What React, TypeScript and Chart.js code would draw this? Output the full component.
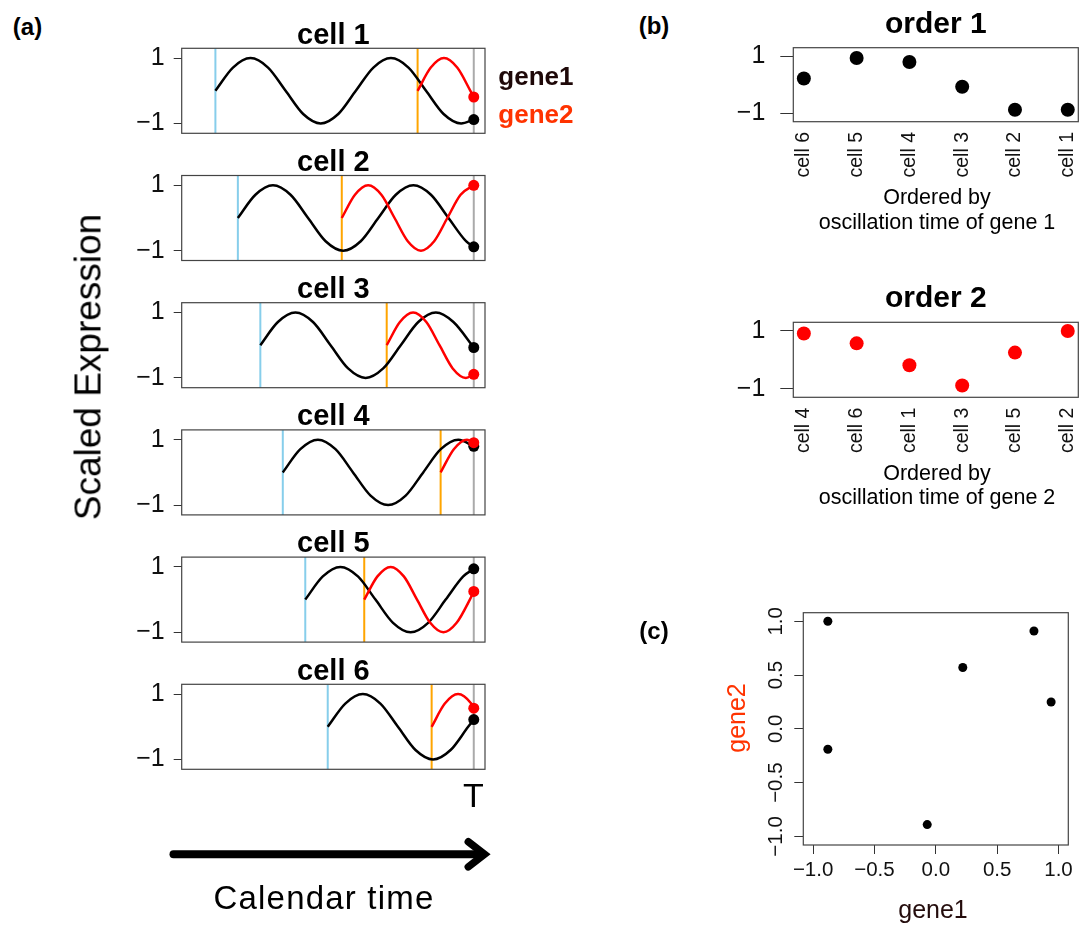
import React, { useEffect, useRef } from "react";
import { Chart, registerables } from "chart.js";

Chart.register(...registerables);

const FONT = '"Liberation Sans", Arial, Helvetica, sans-serif';

// ---------------- data ----------------
const cellNames = ["cell 1", "cell 2", "cell 3", "cell 4", "cell 5", "cell 6"];
const calendarT = 100; // the time T (gray line)
const timeRange = [-4, 104];
const exprRange = [-1.3, 1.3];
const exprTicks = [-1, 1];

// expression of each gene at time T (end dots)
const gene1End = [-0.88, -0.88, -0.07, 0.8, 0.94, 0.22];
const gene2End = [-0.19, 1.0, -0.89, 0.91, 0.25, 0.57];

// points (time, scaled expression)
const gene1Cell1 = [[8, 0], [14.25, 0.71], [20.5, 1], [26.75, 0.71], [33, 0], [39.25, -0.71], [45.5, -1], [51.75, -0.71], [58, 0], [64.25, 0.71], [70.5, 1], [76.75, 0.71], [83, 0], [89.25, -0.71], [95.5, -1]];
const gene1Cell2 = [[16, 0], [22.25, 0.71], [28.5, 1], [34.75, 0.71], [41, 0], [47.25, -0.71], [53.5, -1], [59.75, -0.71], [66, 0], [72.25, 0.71], [78.5, 1], [84.75, 0.71], [91, 0], [97.25, -0.71]];
const gene1Cell3 = [[24, 0], [30.25, 0.71], [36.5, 1], [42.75, 0.71], [49, 0], [55.25, -0.71], [61.5, -1], [67.75, -0.71], [74, 0], [80.25, 0.71], [86.5, 1], [92.75, 0.71]];
const gene1Cell4 = [[32, 0], [38.25, 0.71], [44.5, 1], [50.75, 0.71], [57, 0], [63.25, -0.71], [69.5, -1], [75.75, -0.71], [82, 0], [88.25, 0.71], [94.5, 1]];
const gene1Cell5 = [[40, 0], [46.25, 0.71], [52.5, 1], [58.75, 0.71], [65, 0], [71.25, -0.71], [77.5, -1], [83.75, -0.71], [90, 0], [96.25, 0.71]];
const gene1Cell6 = [[48, 0], [54.25, 0.71], [60.5, 1], [66.75, 0.71], [73, 0], [79.25, -0.71], [85.5, -1], [91.75, -0.71], [98, 0]];

const gene2Cell1 = [[80, 0], [84.7, 0.71], [89.4, 1], [94.1, 0.71], [98.8, 0]];
const gene2Cell2 = [[53, 0], [57.7, 0.71], [62.4, 1], [67.1, 0.71], [71.8, 0], [76.5, -0.71], [81.2, -1], [85.9, -0.71], [90.6, 0], [95.3, 0.71]];
const gene2Cell3 = [[69, 0], [73.7, 0.71], [78.4, 1], [83.1, 0.71], [87.8, 0], [92.5, -0.71], [97.2, -1]];
const gene2Cell4 = [[88.2, 0], [92.9, 0.71], [97.6, 1]];
const gene2Cell5 = [[61, 0], [65.7, 0.71], [70.4, 1], [75.1, 0.71], [79.8, 0], [84.5, -0.71], [89.2, -1], [93.9, -0.71], [98.6, 0]];
const gene2Cell6 = [[85, 0], [89.7, 0.71], [94.4, 1], [99.1, 0.71]];

const gene1Keys = [gene1Cell1, gene1Cell2, gene1Cell3, gene1Cell4, gene1Cell5, gene1Cell6];
const gene2Keys = [gene2Cell1, gene2Cell2, gene2Cell3, gene2Cell4, gene2Cell5, gene2Cell6];

// panel (b): cells ordered by oscillation time
const order1Cells = [6, 5, 4, 3, 2, 1];
const order2Cells = [4, 6, 1, 3, 5, 2];

// panel (c)
const scatterRange = [-1.08, 1.08];
const scatterTicks = [-1, -0.5, 0, 0.5, 1];

// ---------------- styles ----------------
const BLACK = "#000000";
const RED = "#ff0000";
const BLUE = "#87ceeb";
const ORANGE = "#ffa500";
const GRAY = "#aaaaaa";
const FRAME = "#444444";
const TICKC = "#333333";

const fmt = (v: number, d = 0) => (v < 0 ? "\u2212" : "") + Math.abs(v).toFixed(d);

type Spec = { left: number; top: number; w: number; h: number; make: () => any };

function decor(opts: any) {
  return {
    id: "decor",
    afterDraw(chart: any) {
      const { ctx, chartArea: a } = chart;
      ctx.save();
      if (opts.frame) {
        ctx.strokeStyle = FRAME;
        ctx.lineWidth = 1.2;
        ctx.strokeRect(a.left, a.top, a.right - a.left, a.bottom - a.top);
      }
      if (opts.title) {
        ctx.font = opts.titleFont;
        ctx.fillStyle = "#000";
        ctx.textAlign = "center";
        ctx.textBaseline = "middle";
        ctx.fillText(opts.title, (a.left + a.right) / 2, a.top - opts.titleOffset);
      }
      if (opts.rotY) {
        const s = chart.scales.y;
        ctx.font = opts.rotY.font;
        ctx.fillStyle = "#111";
        ctx.textAlign = "center";
        ctx.textBaseline = "middle";
        for (const v of opts.rotY.values) {
          const y = s.getPixelForValue(v);
          ctx.save();
          ctx.translate(opts.rotY.x, y);
          ctx.rotate(-Math.PI / 2);
          ctx.fillText(fmt(v, 1), 0, 0);
          ctx.restore();
        }
      }
      if (opts.rotX) {
        const s = chart.scales.x;
        ctx.font = opts.rotX.font;
        ctx.fillStyle = "#111";
        ctx.textAlign = "right";
        ctx.textBaseline = "middle";
        opts.rotX.labels.forEach((lab: string, j: number) => {
          const x = s.getPixelForValue(j + 1);
          ctx.save();
          ctx.translate(x, a.bottom + opts.rotX.gap);
          ctx.rotate(-Math.PI / 2);
          ctx.fillText(lab, 0, 0);
          ctx.restore();
        });
      }
      ctx.restore();
    },
  };
}

const baseOptions = (padding: any) => ({
  animation: false,
  responsive: false,
  devicePixelRatio: 1,
  events: [],
  layout: { autoPadding: false, padding },
  plugins: { legend: { display: false }, tooltip: { enabled: false }, title: { display: false } },
});

const exprYAxis = (width: number, tickLen: number, pad: number) => ({
  type: "linear",
  min: exprRange[0],
  max: exprRange[1],
  afterBuildTicks: (s: any) => {
    s.ticks = exprTicks.map((v) => ({ value: v }));
  },
  afterFit: (s: any) => {
    s.width = width;
    s.paddingTop = 0;
    s.paddingBottom = 0;
  },
  ticks: {
    font: { family: FONT, size: 25 },
    color: "#111",
    padding: pad,
    callback: (v: number) => fmt(v),
  },
  grid: { drawOnChartArea: false, drawTicks: true, tickLength: tickLen, color: TICKC, lineWidth: 1 },
  border: { display: false },
});

// ---------------- panel (a) cells ----------------
const CELL_TOP0 = 48.3;
const CELL_STEP = 127.2;
const CELL_H = 85;

function cellSpec(i: number): Spec {
  const boxTop = CELL_TOP0 + CELL_STEP * i;
  const top = Math.floor(boxTop) - 40;
  const h = 140;
  const w = 500;
  const padTop = boxTop - top;
  const padBottom = h - padTop - CELL_H;
  const toPts = (arr: number[][]) => arr.map(([x, y]) => ({ x, y }));
  const g1 = toPts(gene1Keys[i]).concat([{ x: calendarT, y: gene1End[i] }]);
  const g2 = toPts(gene2Keys[i]).concat([{ x: calendarT, y: gene2End[i] }]);
  const vline = (x: number) => [
    { x, y: exprRange[0] },
    { x, y: exprRange[1] },
  ];
  const dot = (y: number, color: string, order: number) => ({
    data: [{ x: calendarT, y }],
    showLine: false,
    pointRadius: 5.5,
    pointBackgroundColor: color,
    pointBorderColor: color,
    pointBorderWidth: 0,
    order,
  });
  const line = (data: any[], color: string, width: number, order: number, smooth: boolean) => ({
    data,
    borderColor: color,
    borderWidth: width,
    pointRadius: 0,
    cubicInterpolationMode: smooth ? "monotone" : "default",
    tension: 0,
    fill: false,
    order,
  });
  return {
    left: 100,
    top,
    w,
    h,
    make: () => ({
      type: "line",
      data: {
        datasets: [
          dot(gene2End[i], RED, 0),
          dot(gene1End[i], BLACK, 1),
          line(g2, RED, 2.5, 2, true),
          line(g1, BLACK, 2.5, 3, true),
          line(vline(calendarT), GRAY, 2, 4, false),
          line(vline(gene2Keys[i][0][0]), ORANGE, 2, 5, false),
          line(vline(gene1Keys[i][0][0]), BLUE, 2, 6, false),
        ],
      },
      options: {
        ...baseOptions({ top: padTop, bottom: padBottom, left: 0, right: 115 }),
        scales: {
          x: { type: "linear", min: timeRange[0], max: timeRange[1], display: false },
          y: exprYAxis(81.7, 8, 9),
        },
      },
      plugins: [
        decor({ frame: true, title: cellNames[i], titleFont: `bold 29px ${FONT}`, titleOffset: 12.7 }),
      ],
    }),
  };
}

// ---------------- panel (b) orders ----------------
function orderSpec(
  title: string,
  cells: number[],
  values: number[],
  color: string,
  boxTop: number,
  boxH: number
): Spec {
  const top = Math.floor(boxTop) - 45;
  const padTop = boxTop - top;
  const xH = 70;
  const h = Math.ceil(padTop + boxH + xH + 2);
  const padBottom = h - padTop - boxH - xH;
  const labels = cells.map((c) => cellNames[c - 1]);
  return {
    left: 700,
    top,
    w: 381,
    h,
    make: () => ({
      type: "scatter",
      data: {
        datasets: [
          {
            data: cells.map((c, j) => ({ x: j + 1, y: values[c - 1] })),
            pointRadius: 7,
            pointBackgroundColor: color,
            pointBorderColor: color,
            pointBorderWidth: 0,
          },
        ],
      },
      options: {
        ...baseOptions({ top: padTop, bottom: padBottom, left: 0, right: 2.7 }),
        scales: {
          x: {
            type: "linear",
            min: 0.8,
            max: cells.length + 0.2,
            afterBuildTicks: (s: any) => {
              s.ticks = cells.map((_c, j) => ({ value: j + 1 }));
            },
            afterFit: (s: any) => {
              s.height = xH;
              s.paddingLeft = 0;
              s.paddingRight = 0;
            },
            ticks: { display: false },
            grid: { display: false },
            border: { display: false },
          },
          y: exprYAxis(93.3, 13, 15),
        },
      },
      plugins: [
        decor({
          frame: true,
          title,
          titleFont: `bold 30px ${FONT}`,
          titleOffset: 23.2,
          rotX: { labels, gap: 10.3, font: `19.5px ${FONT}` },
        }),
      ],
    }),
  };
}

// ---------------- panel (c) scatter ----------------
function scatterSpec(): Spec {
  const left = 700;
  const top = 590;
  return {
    left,
    top,
    w: 381,
    h: 335,
    make: () => ({
      type: "scatter",
      data: {
        datasets: [
          {
            data: gene1End.map((g, i) => ({ x: g, y: gene2End[i] })),
            pointRadius: 4.5,
            pointBackgroundColor: BLACK,
            pointBorderColor: BLACK,
            pointBorderWidth: 0,
          },
        ],
      },
      options: {
        ...baseOptions({ top: 22.7, bottom: 0, left: 0, right: 12.7 }),
        scales: {
          x: {
            type: "linear",
            min: scatterRange[0],
            max: scatterRange[1],
            afterBuildTicks: (s: any) => {
              s.ticks = scatterTicks.map((v) => ({ value: v }));
            },
            afterFit: (s: any) => {
              s.height = 80;
              s.paddingLeft = 0;
              s.paddingRight = 0;
            },
            ticks: {
              autoSkip: false,
              maxRotation: 0,
              padding: 4,
              color: "#111",
              font: { family: FONT, size: 20.5 },
              callback: (v: number) => fmt(v, 1),
            },
            grid: { drawOnChartArea: false, drawTicks: true, tickLength: 9, color: TICKC, lineWidth: 1 },
            border: { display: false },
          },
          y: {
            type: "linear",
            min: scatterRange[0],
            max: scatterRange[1],
            afterBuildTicks: (s: any) => {
              s.ticks = scatterTicks.map((v) => ({ value: v }));
            },
            afterFit: (s: any) => {
              s.width = 103.3;
              s.paddingTop = 0;
              s.paddingBottom = 0;
            },
            ticks: { display: false },
            grid: { drawOnChartArea: false, drawTicks: true, tickLength: 9, color: TICKC, lineWidth: 1 },
            border: { display: false },
          },
        },
      },
      plugins: [
        decor({ frame: true, rotY: { values: scatterTicks, x: 776.7 - left, font: `20.5px ${FONT}` } }),
      ],
    }),
  };
}

const specs: Spec[] = [
  ...cellNames.map((_n, i) => cellSpec(i)),
  orderSpec("order 1", order1Cells, gene1End, BLACK, 47.7, 74),
  orderSpec("order 2", order2Cells, gene2End, RED, 322.3, 75),
  scatterSpec(),
];

const Text = (p: {
  x: number;
  y: number;
  size: number;
  bold?: boolean;
  color?: string;
  rotate?: number;
  start?: boolean;
  spacing?: number;
  children: React.ReactNode;
}) => (
  <div
    style={{
      position: "absolute",
      left: p.x,
      top: p.y,
      fontSize: p.size,
      fontWeight: p.bold ? 700 : 400,
      color: p.color || "#000",
      lineHeight: 1,
      whiteSpace: "nowrap",
      fontFamily: FONT,
      letterSpacing: p.spacing ? `${p.spacing}px` : undefined,
      transform: `translate(${p.start ? "0" : "-50%"}, -50%)${p.rotate ? ` rotate(${p.rotate}deg)` : ""}`,
    }}
  >
    {p.children}
  </div>
);

export default function App() {
  const refs = useRef<(HTMLCanvasElement | null)[]>([]);
  useEffect(() => {
    const charts: Chart[] = [];
    specs.forEach((s, k) => {
      const c = refs.current[k];
      if (c) charts.push(new Chart(c, s.make()));
    });
    return () => charts.forEach((ch) => ch.destroy());
  }, []);

  return (
    <div
      style={{
        position: "absolute",
        left: 0,
        top: 0,
        width: 1081,
        height: 925,
        background: "#ffffff",
        overflow: "hidden",
        fontFamily: FONT,
      }}
    >
      {specs.map((s, k) => (
        <canvas
          key={k}
          ref={(el) => {
            refs.current[k] = el;
          }}
          width={s.w}
          height={s.h}
          style={{ position: "absolute", left: s.left, top: s.top, width: s.w, height: s.h }}
        />
      ))}

      <Text x={27.5} y={27} size={24} bold>(a)</Text>
      <Text x={654} y={26} size={24} bold>(b)</Text>
      <Text x={654} y={631} size={24} bold>(c)</Text>

      <Text x={88.3} y={366.5} size={37} rotate={-90}>Scaled Expression</Text>

      <Text x={498.3} y={76} size={26} bold color="#1e0808" start>gene1</Text>
      <Text x={498.3} y={113.7} size={26} bold color="#ff3300" start>gene2</Text>

      <Text x={473.3} y={794.9} size={34}>T</Text>

      <svg
        width={1081}
        height={925}
        style={{ position: "absolute", left: 0, top: 0, pointerEvents: "none" }}
      >
        <line x1={173.5} y1={854.3} x2={481} y2={854.3} stroke="#000" strokeWidth={8} strokeLinecap="round" />
        <polyline
          points="468.3,841.7 484.5,854.3 468.3,866.9"
          fill="none"
          stroke="#000"
          strokeWidth={7.5}
          strokeLinecap="round"
          strokeLinejoin="miter"
        />
      </svg>

      <Text x={324} y={896.9} size={33} spacing={1.2}>Calendar time</Text>

      <Text x={937} y={197.5} size={21.5}>Ordered by</Text>
      <Text x={937} y={222.5} size={21.5}>oscillation time of gene 1</Text>
      <Text x={937} y={474} size={21.5}>Ordered by</Text>
      <Text x={937} y={498} size={21.5}>oscillation time of gene 2</Text>

      <Text x={933} y={909} size={25} color="#240c0c">gene1</Text>
      <Text x={736} y={717.5} size={25} color="#ff3300" rotate={-90}>gene2</Text>
    </div>
  );
}
